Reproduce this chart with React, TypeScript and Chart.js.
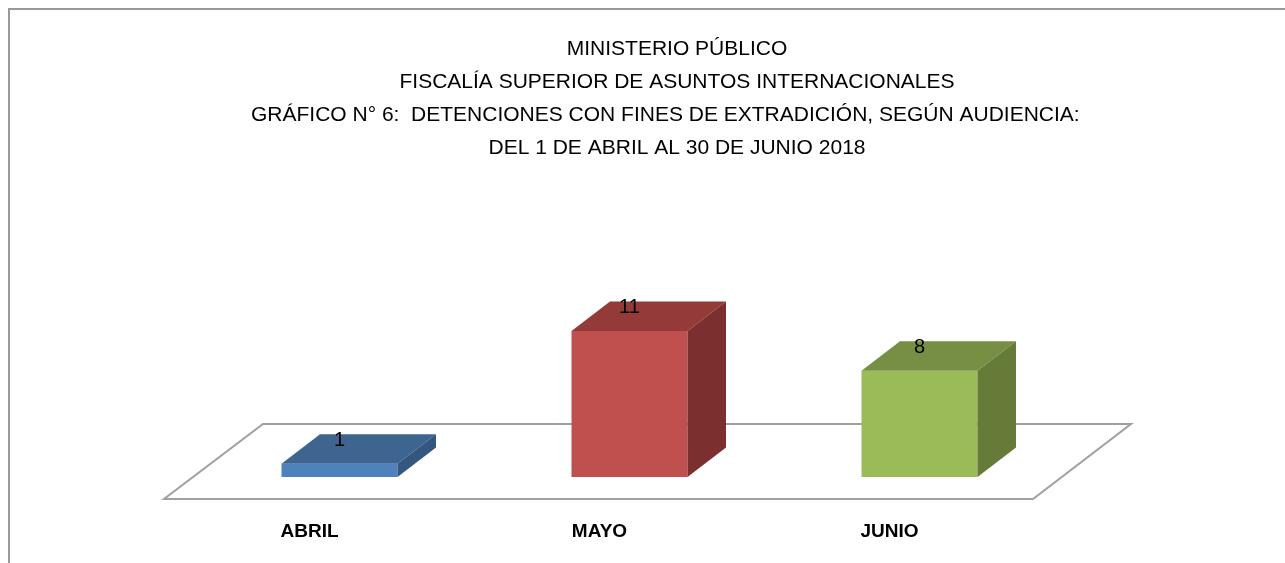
import React, { useEffect, useRef } from "react";
import { Chart, registerables } from "chart.js";

Chart.register(...registerables);

const categories = ["ABRIL", "MAYO", "JUNIO"];
const values = [1, 11, 8];
const titleLines = [
  "MINISTERIO PÚBLICO",
  "FISCALÍA SUPERIOR DE ASUNTOS INTERNACIONALES",
  "GRÁFICO N° 6:  DETENCIONES CON FINES DE EXTRADICIÓN, SEGÚN AUDIENCIA:    ",
  "DEL 1 DE ABRIL AL 30 DE JUNIO 2018",
];
const frontColors = ["#4F81BD", "#C0504D", "#9BBB59"];
const topColors = ["#3E6490", "#943B39", "#778F45"];
const sideColors = ["#35577F", "#7B2F2E", "#667B37"];

const FONT = "'Liberation Sans', Arial, sans-serif";
const DEPTH_X = 38.5;
const DEPTH_Y = -29.5;

const frameAndFloor = {
  id: "frameAndFloor",
  beforeDraw(chart: any) {
    const { ctx, width, height } = chart;
    ctx.save();
    ctx.fillStyle = "#ffffff";
    ctx.fillRect(0, 0, width, height);
    ctx.strokeStyle = "#999999";
    ctx.lineWidth = 2;
    ctx.beginPath();
    ctx.moveTo(9, height + 2);
    ctx.lineTo(9, 9);
    ctx.lineTo(width + 2, 9);
    ctx.stroke();
    ctx.restore();
  },
  beforeDatasetsDraw(chart: any) {
    const { ctx, chartArea } = chart;
    const fl = chartArea.left - 30.5;
    const fr = chartArea.right - 31.5;
    const fy = chartArea.bottom + 22;
    const bl = chartArea.left + 68.5;
    const br = chartArea.right + 66.5;
    const by = chartArea.bottom - 53;
    ctx.save();
    ctx.beginPath();
    ctx.moveTo(fl, fy);
    ctx.lineTo(fr, fy);
    ctx.lineTo(br, by);
    ctx.lineTo(bl, by);
    ctx.closePath();
    ctx.fillStyle = "#ffffff";
    ctx.fill();
    ctx.strokeStyle = "#a0a0a0";
    ctx.lineWidth = 2;
    ctx.stroke();
    ctx.restore();
  },
  afterDatasetsDraw(chart: any) {
    const { ctx } = chart;
    const meta = chart.getDatasetMeta(0);
    ctx.save();
    meta.data.forEach((el: any, i: number) => {
      const { x, y, base, width } = el.getProps(["x", "y", "base", "width"], true);
      const l = x - width / 2;
      const r = x + width / 2;
      // top face
      ctx.beginPath();
      ctx.moveTo(l, y);
      ctx.lineTo(l + DEPTH_X, y + DEPTH_Y);
      ctx.lineTo(r + DEPTH_X, y + DEPTH_Y);
      ctx.lineTo(r, y);
      ctx.closePath();
      ctx.fillStyle = topColors[i];
      ctx.fill();
      // side face
      ctx.beginPath();
      ctx.moveTo(r, y);
      ctx.lineTo(r + DEPTH_X, y + DEPTH_Y);
      ctx.lineTo(r + DEPTH_X, base + DEPTH_Y);
      ctx.lineTo(r, base);
      ctx.closePath();
      ctx.fillStyle = sideColors[i];
      ctx.fill();
      // value label
      ctx.fillStyle = "#000000";
      ctx.font = `20px ${FONT}`;
      ctx.textAlign = "center";
      ctx.textBaseline = "middle";
      ctx.fillText(String(values[i]), x, y - 23);
    });
    ctx.restore();
  },
};

export default function App() {
  const ref = useRef<HTMLCanvasElement | null>(null);
  useEffect(() => {
    if (!ref.current) return;
    Chart.defaults.font.family = FONT;
    const chart = new Chart(ref.current, {
      type: "bar",
      data: {
        labels: categories,
        datasets: [
          {
            data: values,
            backgroundColor: frontColors,
            borderWidth: 0,
            barPercentage: 0.4,
            categoryPercentage: 1,
          },
        ],
      },
      options: {
        animation: false,
        responsive: false,
        devicePixelRatio: 1,
        layout: { padding: { left: 194.5, right: 125.5, top: 0, bottom: 0 } },
        plugins: {
          legend: { display: false },
          tooltip: { enabled: false },
          title: {
            display: true,
            text: titleLines,
            color: "#000000",
            font: { size: 21, weight: "normal", lineHeight: 33 / 21, family: FONT },
            padding: { top: 32.5, bottom: 47 },
          },
        },
        scales: {
          x: {
            grid: { display: false, drawTicks: false },
            border: { display: false },
            ticks: {
              color: "#000000",
              font: { size: 19, weight: "bold", family: FONT },
              labelOffset: -30,
              padding: 43,
              maxRotation: 0,
            },
            afterFit: (scale: any) => {
              scale.height = 86;
            },
          },
          y: {
            position: "right",
            min: 0,
            max: 20,
            display: true,
            grid: { display: false, drawTicks: false },
            border: { display: false },
            ticks: { display: false },
            afterFit: (scale: any) => {
              scale.width = 95;
            },
          },
        },
      },
      plugins: [frameAndFloor],
    });
    return () => chart.destroy();
  }, []);
  return (
    <canvas
      ref={ref}
      width={1285}
      height={563}
      style={{ position: "fixed", left: 0, top: 0, width: 1285, height: 563 }}
    />
  );
}
